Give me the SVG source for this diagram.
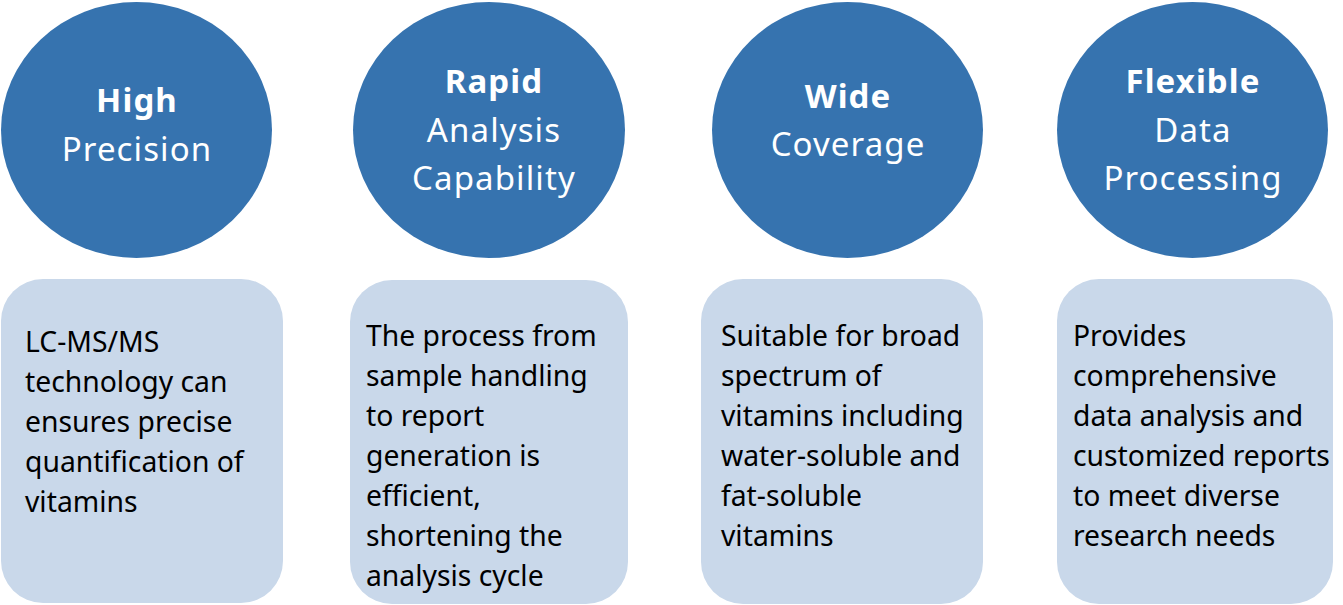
<svg xmlns="http://www.w3.org/2000/svg" width="1343" height="605" viewBox="0 0 1343 605">
<style>
.c{fill:#3673AF;}
.b{fill:#C9D8EA;}
.t{font-family:"Noto Sans","Open Sans",sans-serif;font-size:33px;fill:#FFFFFF;text-anchor:middle;letter-spacing:1.1px;}
.tb{font-weight:bold;}
.d{font-family:"Noto Sans","Open Sans",sans-serif;font-size:28.3px;fill:#000000;}
</style>
<rect width="1343" height="605" fill="#FFFFFF"/>
<g id="node-high-precision">
<ellipse class="c" cx="136.5" cy="130" rx="135.5" ry="128"/>
<text class="t tb" x="137" y="112">High</text>
<text class="t" x="137" y="161">Precision</text>
</g>
<g id="node-rapid">
<ellipse class="c" cx="489" cy="130" rx="136" ry="128"/>
<text class="t tb" x="494" y="93">Rapid</text>
<text class="t" x="494" y="142">Analysis</text>
<text class="t" x="494" y="190">Capability</text>
</g>
<g id="node-wide">
<ellipse class="c" cx="847.5" cy="130" rx="135.5" ry="128"/>
<text class="t tb" x="848" y="108">Wide</text>
<text class="t" x="848" y="156">Coverage</text>
</g>
<g id="node-flexible">
<ellipse class="c" cx="1192.5" cy="130" rx="135.5" ry="128"/>
<text class="t tb" x="1193" y="93">Flexible</text>
<text class="t" x="1193" y="142">Data</text>
<text class="t" x="1193" y="190">Processing</text>
</g>
<g id="box-high-precision">
<rect class="b" x="1" y="279" width="282" height="324" rx="42"/>
<text class="d" x="25" y="352">LC-MS/MS</text>
<text class="d" x="25" y="392">technology can</text>
<text class="d" x="25" y="432">ensures precise</text>
<text class="d" x="25" y="472">quantification of</text>
<text class="d" x="25" y="512">vitamins</text>
</g>
<g id="box-rapid">
<rect class="b" x="350" y="280" width="278" height="324" rx="42"/>
<text class="d" x="366" y="346">The process from</text>
<text class="d" x="366" y="386">sample handling</text>
<text class="d" x="366" y="426">to report</text>
<text class="d" x="366" y="466">generation is</text>
<text class="d" x="366" y="506">efficient,</text>
<text class="d" x="366" y="546">shortening the</text>
<text class="d" x="366" y="586">analysis cycle</text>
</g>
<g id="box-wide">
<rect class="b" x="701" y="279" width="282" height="325" rx="42"/>
<text class="d" x="721" y="346">Suitable for broad</text>
<text class="d" x="721" y="386">spectrum of</text>
<text class="d" x="721" y="426">vitamins including</text>
<text class="d" x="721" y="466">water-soluble and</text>
<text class="d" x="721" y="506">fat-soluble</text>
<text class="d" x="721" y="546">vitamins</text>
</g>
<g id="box-flexible">
<rect class="b" x="1057" y="279" width="276" height="325" rx="42"/>
<text class="d" x="1073" y="346">Provides</text>
<text class="d" x="1073" y="386">comprehensive</text>
<text class="d" x="1073" y="426">data analysis and</text>
<text class="d" x="1073" y="466">customized reports</text>
<text class="d" x="1073" y="506">to meet diverse</text>
<text class="d" x="1073" y="546">research needs</text>
</g>
<g id="connectors"></g>
</svg>
